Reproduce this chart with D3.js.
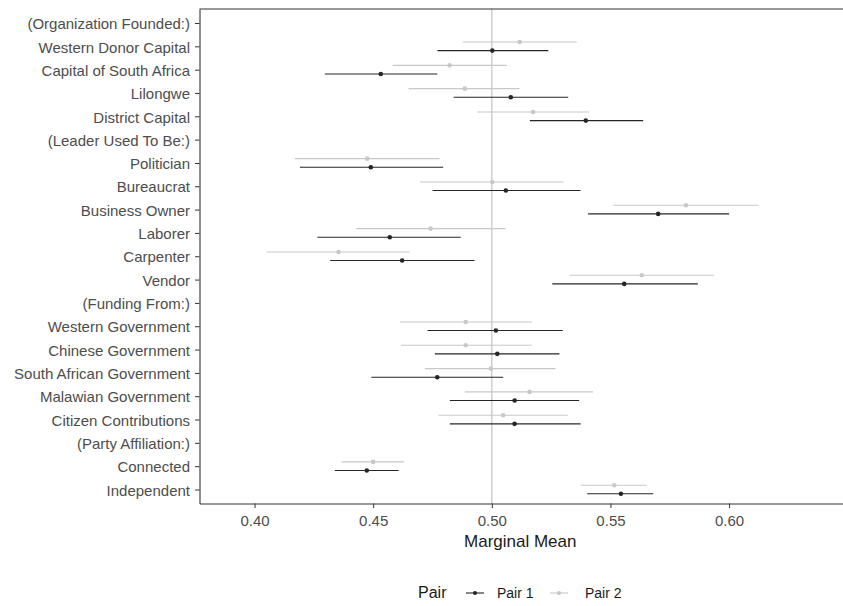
<!DOCTYPE html>
<html><head><meta charset="utf-8">
<script src="https://cdn.jsdelivr.net/npm/d3@7"></script>
<style>body{margin:0;background:#fff}svg{display:block;font-family:"Liberation Sans",Arial,sans-serif}</style>
</head><body><svg id="c" width="843" height="606"></svg>
<script>
const categories = ["(Organization Founded:)","Western Donor Capital","Capital of South Africa","Lilongwe","District Capital","(Leader Used To Be:)","Politician","Bureaucrat","Business Owner","Laborer","Carpenter","Vendor","(Funding From:)","Western Government","Chinese Government","South African Government","Malawian Government","Citizen Contributions","(Party Affiliation:)","Connected","Independent"];
const seriesNames = ["Pair 1","Pair 2"];
// Pair 1 estimate, lower, upper (null = header row)
const pair1Est   = [null,0.5002,0.4532,0.5080,0.5396,null,0.4490,0.5059,0.5701,0.4570,0.4622,0.5558,null,0.5017,0.5023,0.4770,0.5096,0.5096,null,0.4473,0.5544];
const pair1Lower = [null,0.4771,0.4296,0.4839,0.5160,null,0.4191,0.4750,0.5406,0.4265,0.4319,0.5255,null,0.4729,0.4760,0.4492,0.4823,0.4823,null,0.4338,0.5402];
const pair1Upper = [null,0.5238,0.4770,0.5322,0.5638,null,0.4795,0.5374,0.6000,0.4869,0.4927,0.5868,null,0.5299,0.5285,0.5048,0.5368,0.5374,null,0.4607,0.5680];
const pair2Est   = [null,0.5117,0.4822,0.4886,0.5174,null,0.4475,0.5002,0.5818,0.4742,0.4354,0.5632,null,0.4890,0.4890,0.4996,0.5159,0.5048,null,0.4500,0.5516];
const pair2Lower = [null,0.4877,0.4582,0.4649,0.4938,null,0.4170,0.4697,0.5512,0.4429,0.4051,0.5329,null,0.4612,0.4618,0.4718,0.4886,0.4775,null,0.4367,0.5375];
const pair2Upper = [null,0.5358,0.5063,0.5117,0.5410,null,0.4780,0.5301,0.6123,0.5058,0.4653,0.5937,null,0.5169,0.5169,0.5268,0.5427,0.5320,null,0.4631,0.5652];
const xTicks = [0.40,0.45,0.50,0.55,0.60];
const refLine = 0.5;
const colors = ["#262626","#c8c8c8"];

const svg = d3.select("#c");
const L = 199.5, R = 843, T = 9, B = 503.5;
const x = d3.scaleLinear().domain([0.3768,0.6480]).range([L,R]);
const y = d3.scalePoint().domain(categories).range([T,B]).padding(0.6);
const dodge = 4.3;

// reference line
svg.append("line").attr("x1",x(refLine)).attr("x2",x(refLine)).attr("y1",T).attr("y2",B)
  .attr("stroke","#bdbdbd").attr("stroke-width",1.1);

const series = [
  {name:seriesNames[0], est:pair1Est, lo:pair1Lower, hi:pair1Upper, off:dodge, col:colors[0]},
  {name:seriesNames[1], est:pair2Est, lo:pair2Lower, hi:pair2Upper, off:-dodge, col:colors[1]}
];
[series[1],series[0]].forEach(s=>{
  const rows = categories.map((c,i)=>({c,e:s.est[i],l:s.lo[i],h:s.hi[i]})).filter(d=>d.e!==null);
  const g = svg.append("g");
  g.selectAll("line").data(rows).join("line")
    .attr("x1",d=>x(d.l)).attr("x2",d=>x(d.h))
    .attr("y1",d=>y(d.c)+s.off).attr("y2",d=>y(d.c)+s.off)
    .attr("stroke",s.col).attr("stroke-width",1.1);
  g.selectAll("circle").data(rows).join("circle")
    .attr("cx",d=>x(d.e)).attr("cy",d=>y(d.c)+s.off).attr("r",2.3).attr("fill",s.col);
});

// top border
svg.append("line").attr("x1",L).attr("x2",R).attr("y1",T).attr("y2",T).attr("stroke","#333").attr("stroke-width",1.1);

// axes
const xAxis = d3.axisBottom(x).tickValues(xTicks).tickFormat(d3.format(".2f")).tickSize(4.5).tickPadding(4).tickSizeOuter(0);
const gx = svg.append("g").attr("transform",`translate(0,${B})`).call(xAxis);
gx.select(".domain").attr("stroke","#333").attr("stroke-width",1.1);
gx.selectAll(".tick line").attr("stroke","#333");
gx.selectAll(".tick text").attr("fill","#4d4d4d").attr("font-size",15).attr("dy","0.95em")
  .style("font-family","Liberation Sans, Arial, sans-serif");

const yAxis = d3.axisLeft(y).tickSize(4.5).tickPadding(5).tickSizeOuter(0);
const gy = svg.append("g").attr("transform",`translate(${L},0)`).call(yAxis);
gy.select(".domain").attr("stroke","#333").attr("stroke-width",1.1);
gy.selectAll(".tick line").attr("stroke","#333");
gy.selectAll(".tick text").attr("fill","#4d4d4d").attr("font-size",15).attr("dy","0.38em")
  .style("font-family","Liberation Sans, Arial, sans-serif");

// x title
svg.append("text").attr("x",(L+R)/2 - 1).attr("y",547).attr("text-anchor","middle")
  .attr("font-size",17).attr("fill","#1a1a1a").text("Marginal Mean");

// legend
const lg = svg.append("g");
lg.append("text").attr("x",418).attr("y",598).attr("font-size",16).attr("fill","#1a1a1a").text("Pair");
const keyX = [466, 550];
const textX = [497, 585];
series.forEach((s,i)=>{
  lg.append("line").attr("x1",keyX[i]).attr("x2",keyX[i]+18).attr("y1",593).attr("y2",593).attr("stroke",s.col).attr("stroke-width",1.1);
  lg.append("circle").attr("cx",keyX[i]+9).attr("cy",593).attr("r",2.1).attr("fill",s.col);
  lg.append("text").attr("x",textX[i]).attr("y",597.5).attr("font-size",14).attr("fill","#1a1a1a").text(s.name);
});
</script></body></html>
